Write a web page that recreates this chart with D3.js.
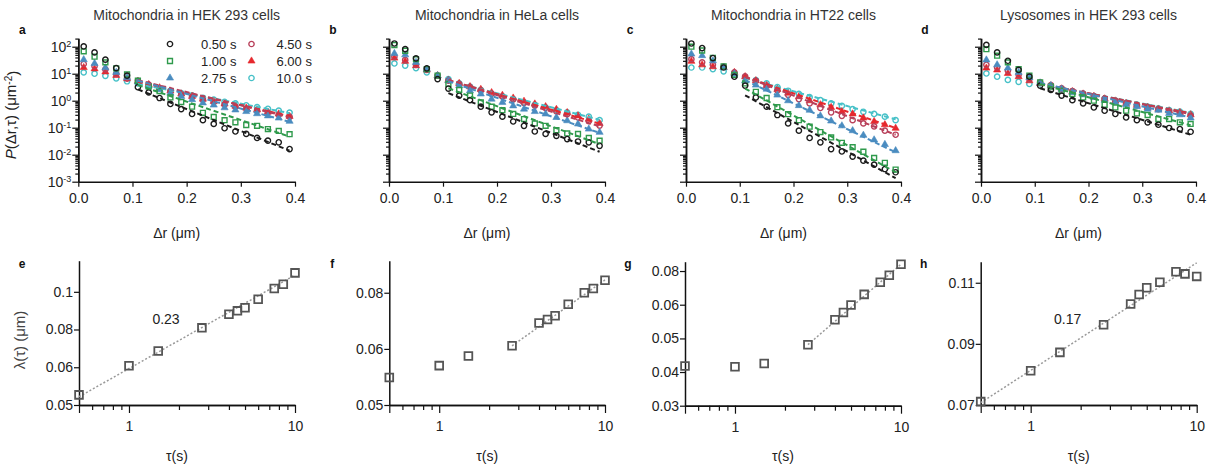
<!DOCTYPE html>
<html>
<head>
<meta charset="utf-8">
<script src="https://cdn.jsdelivr.net/npm/d3@7"></script>
<style>
body { margin: 0; background: #fff; }
svg { font-family: "Liberation Sans", Arial, sans-serif; }
.title { font-size: 14px; fill: #333; text-anchor: middle; }
.letter { font-size: 12px; font-weight: bold; fill: #111; text-anchor: middle; }
.axlabel { font-size: 14px; fill: #222; text-anchor: middle; }
.tick text { fill: #222; }
</style>
</head>
<body>
<svg id="chart" width="1214" height="468"></svg>
<script>
// ---- data ----
var dr = [0.01,0.03,0.05,0.07,0.09,0.11,0.13,0.15,0.17,0.19,0.21,0.23,0.25,0.27,0.29,0.31,0.33,0.35,0.37,0.39];
var tauNames = ["0.50 s","1.00 s","2.75 s","4.50 s","6.00 s","10.0 s"];
var titles = ["Mitochondria in HEK 293 cells","Mitochondria in HeLa cells","Mitochondria in HT22 cells","Lysosomes in HEK 293 cells"];

// log10 P(dr,tau), one row per tau (0.50, 1.00, 2.75, 4.50, 6.00, 10.0 s)
var logPa = [
  [2.01,1.79,1.52,1.21,0.93,0.50,0.31,0.10,-0.12,-0.31,-0.49,-0.72,-0.86,-1.02,-1.14,-1.23,-1.38,-1.48,-1.54,-1.79],
  [1.83,1.63,1.42,1.20,0.97,0.74,0.52,0.36,0.12,-0.05,-0.22,-0.45,-0.60,-0.72,-0.80,-0.90,-0.93,-1.05,-1.12,-1.24],
  [1.52,1.38,1.22,1.05,0.86,0.70,0.55,0.42,0.28,0.16,0.04,-0.08,-0.16,-0.26,-0.34,-0.40,-0.48,-0.56,-0.64,-0.76],
  [1.36,1.28,1.16,0.99,0.82,0.74,0.60,0.47,0.35,0.24,0.14,0.04,-0.05,-0.14,-0.22,-0.30,-0.36,-0.44,-0.52,-0.60],
  [1.23,1.18,1.07,0.94,0.82,0.72,0.60,0.48,0.36,0.25,0.16,0.06,-0.03,-0.12,-0.20,-0.27,-0.34,-0.42,-0.49,-0.58],
  [1.05,1.00,0.92,0.83,0.72,0.64,0.55,0.47,0.37,0.28,0.20,0.11,0.04,-0.04,-0.10,-0.17,-0.24,-0.30,-0.37,-0.44]
];
var logPb = [
  [2.12,1.91,1.57,1.20,0.80,0.45,0.19,0.02,-0.22,-0.43,-0.59,-0.77,-0.93,-1.14,-1.23,-1.30,-1.42,-1.51,-1.54,-1.67],
  [2.06,1.85,1.54,1.17,0.93,0.62,0.40,0.19,-0.06,-0.22,-0.35,-0.49,-0.68,-0.84,-0.93,-1.09,-1.21,-1.23,-1.38,-1.48],
  [1.75,1.70,1.42,1.17,0.93,0.74,0.56,0.37,0.25,0.06,-0.06,-0.19,-0.31,-0.40,-0.49,-0.62,-0.74,-0.86,-1.05,-1.17],
  [1.63,1.51,1.33,1.14,0.93,0.74,0.62,0.50,0.38,0.26,0.16,0.05,-0.08,-0.18,-0.27,-0.40,-0.50,-0.62,-0.76,-0.92],
  [1.58,1.46,1.30,1.14,0.93,0.76,0.64,0.52,0.42,0.30,0.20,0.10,-0.02,-0.12,-0.22,-0.32,-0.44,-0.56,-0.68,-0.84],
  [1.38,1.30,1.21,1.05,0.93,0.80,0.64,0.52,0.40,0.25,0.15,0.06,-0.06,-0.15,-0.25,-0.35,-0.43,-0.52,-0.59,-0.72]
];
var logPc = [
  [2.12,1.95,1.58,1.23,0.89,0.56,0.12,-0.22,-0.53,-0.84,-1.11,-1.38,-1.54,-1.79,-1.88,-2.07,-2.22,-2.37,-2.53,-2.65],
  [2.00,1.86,1.59,1.27,0.96,0.64,0.33,0.10,-0.24,-0.50,-0.72,-0.96,-1.16,-1.36,-1.56,-1.72,-1.89,-2.12,-2.30,-2.55],
  [1.73,1.67,1.48,1.23,0.99,0.74,0.58,0.43,0.21,0.00,-0.18,-0.35,-0.56,-0.75,-0.93,-1.11,-1.28,-1.45,-1.62,-1.85],
  [1.54,1.42,1.33,1.26,1.05,0.90,0.74,0.56,0.38,0.22,0.06,-0.10,-0.27,-0.43,-0.56,-0.72,-0.84,-0.95,-1.11,-1.26],
  [1.46,1.33,1.26,1.23,1.05,0.89,0.74,0.56,0.42,0.28,0.15,0.00,-0.15,-0.25,-0.40,-0.49,-0.64,-0.77,-0.89,-1.02],
  [1.23,1.23,1.17,1.09,1.01,0.86,0.76,0.64,0.50,0.37,0.25,0.13,0.02,-0.10,-0.19,-0.31,-0.41,-0.49,-0.59,-0.72]
];
var logPd = [
  [2.07,1.79,1.48,1.14,0.89,0.56,0.40,0.19,0.02,-0.10,-0.25,-0.37,-0.49,-0.62,-0.72,-0.80,-0.89,-1.01,-1.05,-1.15],
  [1.91,1.67,1.42,1.17,0.93,0.68,0.52,0.37,0.25,0.12,0.00,-0.15,-0.25,-0.37,-0.47,-0.53,-0.68,-0.68,-0.80,-0.86],
  [1.51,1.33,1.21,1.05,0.86,0.66,0.56,0.43,0.31,0.22,0.12,0.02,-0.06,-0.15,-0.22,-0.31,-0.35,-0.47,-0.52,-0.64],
  [1.33,1.23,1.11,0.96,0.80,0.68,0.58,0.46,0.36,0.26,0.17,0.08,0.00,-0.09,-0.16,-0.24,-0.31,-0.38,-0.45,-0.54],
  [1.21,1.14,1.01,0.89,0.74,0.64,0.55,0.44,0.34,0.25,0.16,0.07,-0.01,-0.10,-0.17,-0.25,-0.31,-0.38,-0.44,-0.52],
  [1.01,0.89,0.77,0.70,0.62,0.64,0.55,0.45,0.35,0.26,0.17,0.08,0.00,-0.08,-0.15,-0.22,-0.28,-0.35,-0.40,-0.49]
];
// exponential fits: log10 P at dr = 0.11 and dr = 0.39
var fitRange = [0.11, 0.39];
var fitA = [[0.42,-1.85],[0.58,-1.33],[0.74,-0.78],[0.76,-0.61],[0.70,-0.57],[0.62,-0.46]];
var fitB = [[0.28,-1.89],[0.46,-1.61],[0.72,-1.19],[0.76,-0.95],[0.76,-0.85],[0.74,-0.71]];
var fitC = [[0.20,-2.87],[0.45,-2.65],[0.76,-1.91],[0.88,-1.26],[0.88,-1.01],[0.84,-0.69]];
var fitD = [[0.46,-1.26],[0.62,-0.91],[0.66,-0.62],[0.64,-0.50],[0.62,-0.47],[0.62,-0.45]];

// lambda(tau) in um
var tau  = [0.5, 1, 1.5, 2.75, 4, 4.5, 5, 6, 7.5, 8.5, 10];
var lamE = [0.0532,0.0636,0.0696,0.0802,0.0872,0.0890,0.0907,0.0956,0.1021,0.1048,0.1123];
var lamF = [0.0560,0.0588,0.0612,0.0638,0.0701,0.0711,0.0722,0.0757,0.0794,0.0808,0.0836];
var lamG = [0.0394,0.0392,0.0401,0.0456,0.0541,0.0569,0.0599,0.0644,0.0700,0.0734,0.0792];
var lamH = [0.0709,0.0797,0.0854,0.0948,0.1025,0.1063,0.1090,0.1113,0.1158,0.1149,0.1138];
// power-law fits: [tau, lambda] end points
var pfitE = [[0.5,0.0526],[10,0.1108]];
var pfitF = [[2.75,0.0638],[10,0.0837]];
var pfitG = [[2.75,0.0456],[10,0.0792]];
var pfitH = [[0.5,0.0706],[10,0.1198]];
var yDomE = [0.05,0.121], yTicksE = [0.05,0.063,0.0794,0.1], yLabE = ["0.05","0.06","0.08","0.1"];
var yDomF = [0.05,0.0906], yTicksF = [0.05,0.063,0.0794], yLabF = ["0.05","0.06","0.08"];
var yDomG = [0.03,0.0806], yTicksG = [0.03,0.0378,0.0476,0.06,0.0756], yLabG = ["0.03","0.04","0.05","0.06","0.08"];
var yDomH = [0.07,0.1203], yTicksH = [0.07,0.0882,0.1111], yLabH = ["0.07","0.09","0.11"];

// ---- styles ----
var colors = ["#1c1c1c","#2f9a4c","#4a8cc0","#b8405a","#e6282d","#47c1c8"];
var shapes = [d3.symbolCircle, d3.symbolSquare, d3.symbolTriangle, d3.symbolCircle, d3.symbolTriangle, d3.symbolCircle];
var sizes  = [22, 24, 22, 22, 22, 22];
var filled = [false, false, true, false, true, false];

var svg = d3.select("#chart");

function styleAxis(g) {
    g.select(".domain").attr("stroke", "#111").attr("stroke-width", 1.5);
    g.selectAll(".tick line").attr("stroke", "#111").attr("stroke-width", 1.2);
}

function topPanel(logP, fits, x0, x1, title, letter, first) {
    var yB = 181.7, yT = 38.3;
    var x = d3.scaleLinear().domain([0, 0.4]).range([x0, x1]);
    var y = d3.scaleLog().domain([1e-3, 205]).range([yB, yT]);
    var g = svg.append("g");

    var xa = g.append("g").attr("transform", `translate(0,${yB})`)
        .call(d3.axisBottom(x).tickValues([0,0.1,0.2,0.3,0.4]).tickFormat(d3.format(".1f")).tickSize(5).tickSizeOuter(0).tickPadding(6));
    xa.selectAll("text").attr("font-size", 14).attr("font-family", null);
    styleAxis(xa);

    var minor = [];
    for (var e = -3; e <= 2; e++) for (var k = 2; k <= 9; k++) { if (k * Math.pow(10, e) <= 205) minor.push(k * Math.pow(10, e)); }
    var ym = g.append("g").attr("transform", `translate(${x0},0)`)
        .call(d3.axisLeft(y).tickValues(minor).tickFormat("").tickSize(3).tickSizeOuter(0));
    styleAxis(ym);
    var ya = g.append("g").attr("transform", `translate(${x0},0)`)
        .call(d3.axisLeft(y).tickValues([1e-3,1e-2,1e-1,1,10,100]).tickFormat("").tickSize(6).tickSizeOuter(0).tickPadding(1));
    styleAxis(ya);
    if (first) {
        ya.selectAll(".tick text").each(function(d) {
            var t = d3.select(this).attr("font-size", 14).attr("font-family", null);
            t.text("10");
            t.append("tspan").attr("dy", "-0.5em").attr("font-size", 9).text(String(Math.round(Math.log10(d))));
        });
    }

    for (var s = 5; s >= 0; s--) {
        g.append("g").selectAll("path").data(logP[s]).enter().append("path")
            .attr("transform", (d, j) => `translate(${x(dr[j])},${y(Math.pow(10, d))})`)
            .attr("d", d3.symbol().type(shapes[s]).size(sizes[s]))
            .attr("fill", filled[s] ? colors[s] : "none")
            .attr("stroke", colors[s])
            .attr("stroke-width", filled[s] ? 0.6 : 1.4);
    }
    for (var s = 5; s >= 0; s--) {
        g.append("path")
            .datum([[fitRange[0], fits[s][0]], [fitRange[1], fits[s][1]]])
            .attr("d", d3.line().x(d => x(d[0])).y(d => y(Math.pow(10, d[1]))))
            .attr("fill", "none").attr("stroke", colors[s]).attr("stroke-width", 2)
            .attr("stroke-dasharray", "5,3");
    }

    g.append("text").attr("class", "title").attr("x", (x0 + x1) / 2 + 0).attr("y", 20).text(title);
    g.append("text").attr("class", "letter").attr("x", x0 - 56).attr("y", 34).text(letter);
    g.append("text").attr("class", "axlabel").attr("x", (x0 + x1) / 2 - 10).attr("y", 238).text("\u0394r (\u03bcm)");
}

function bottomPanel(lam, pfit, yDom, yTicks, yLab, x0, x1, yB, yT, letter, slopeText) {
    var x = d3.scaleLog().domain([0.5, 10]).range([x0, x1]);
    var y = d3.scaleLog().domain(yDom).range([yB, yT]);
    var g = svg.append("g");

    var minor = [0.6,0.7,0.8,0.9,2,3,4,5,6,7,8,9];
    var xm = g.append("g").attr("transform", `translate(0,${yB})`)
        .call(d3.axisBottom(x).tickValues(minor).tickFormat("").tickSize(5).tickSizeOuter(0));
    styleAxis(xm);
    var xa = g.append("g").attr("transform", `translate(0,${yB})`)
        .call(d3.axisBottom(x).tickValues([0.5,1,10]).tickFormat(d => d >= 1 ? String(d) : "").tickSize(8).tickSizeOuter(0).tickPadding(8));
    xa.selectAll("text").attr("font-size", 14).attr("font-family", null);
    styleAxis(xa);

    var ya = g.append("g").attr("transform", `translate(${x0},0)`)
        .call(d3.axisLeft(y).tickValues(yTicks).tickFormat((d, i) => yLab[i]).tickSize(5).tickSizeOuter(0).tickPadding(1));
    ya.selectAll("text").attr("font-size", 14).attr("font-family", null);
    styleAxis(ya);

    g.append("path").datum(pfit)
        .attr("d", d3.line().x(d => x(d[0])).y(d => y(d[1])))
        .attr("fill", "none").attr("stroke", "#999").attr("stroke-width", 1.5).attr("stroke-dasharray", "2,2");

    g.append("g").selectAll("path").data(lam).enter().append("path")
        .attr("transform", (d, j) => `translate(${x(tau[j])},${y(d)})`)
        .attr("d", d3.symbol().type(d3.symbolSquare).size(60))
        .attr("fill", "none").attr("stroke", "#555").attr("stroke-width", 1.8);

    g.append("text").attr("class", "letter").attr("x", x0 - 57).attr("y", 268).text(letter);
    g.append("text").attr("class", "axlabel").attr("x", (x0 + x1) / 2 - 10).attr("y", 461).text("\u03c4(s)");
    if (slopeText) {
        g.append("text").attr("x", x0 + 87).attr("y", 324).attr("font-size", 14).attr("text-anchor", "middle").attr("fill", "#222").text(slopeText);
    }
}

topPanel(logPa, fitA, 78.3, 295, titles[0], "a", true);
topPanel(logPb, fitB, 389, 605, titles[1], "b", false);
topPanel(logPc, fitC, 686, 901, titles[2], "c", false);
topPanel(logPd, fitD, 981, 1196, titles[3], "d", false);

bottomPanel(lamE, pfitE, yDomE, yTicksE, yLabE, 79, 295, 405, 260.7, "e", "0.23");
bottomPanel(lamF, pfitF, yDomF, yTicksF, yLabF, 389.3, 605, 405, 260.7, "f", null);
bottomPanel(lamG, pfitG, yDomG, yTicksG, yLabG, 685, 901, 405.7, 261.7, "g", null);
bottomPanel(lamH, pfitH, yDomH, yTicksH, yLabH, 980.7, 1196.7, 405, 261.7, "h", "0.17");

// legend (panel a)
var legend = svg.selectAll(".legend").data(tauNames).enter().append("g")
    .attr("class", "legend")
    .attr("transform", (d, i) => `translate(${i < 3 ? 170 : 251.5},${44 + (i % 3) * 17})`);
legend.append("path")
    .attr("d", (d, i) => d3.symbol().type(shapes[i]).size(sizes[i])())
    .attr("fill", (d, i) => filled[i] ? colors[i] : "none")
    .attr("stroke", (d, i) => colors[i])
    .attr("stroke-width", (d, i) => filled[i] ? 0.6 : 1.4);
legend.append("text").attr("x", (d, i) => i < 3 ? 31 : 25).attr("dy", "0.35em")
    .attr("font-size", 13).attr("fill", "#222").text(d => d);

// y axis titles
svg.append("text").attr("transform", "translate(16,115) rotate(-90)")
    .attr("text-anchor", "middle").attr("font-size", 15).attr("fill", "#222")
    .call(t => {
        t.append("tspan").attr("font-style", "italic").text("P");
        t.append("tspan").text("(\u0394r,\u03c4) (\u03bcm");
        t.append("tspan").attr("dy", "-0.45em").attr("font-size", 10).text("-2");
        t.append("tspan").attr("dy", "0.45em").text(")");
    });
svg.append("text").attr("transform", "translate(25,340) rotate(-90)")
    .attr("text-anchor", "middle").attr("font-size", 15).attr("fill", "#444")
    .text("\u03bb(\u03c4) (\u03bcm)");
</script>
</body>
</html>
